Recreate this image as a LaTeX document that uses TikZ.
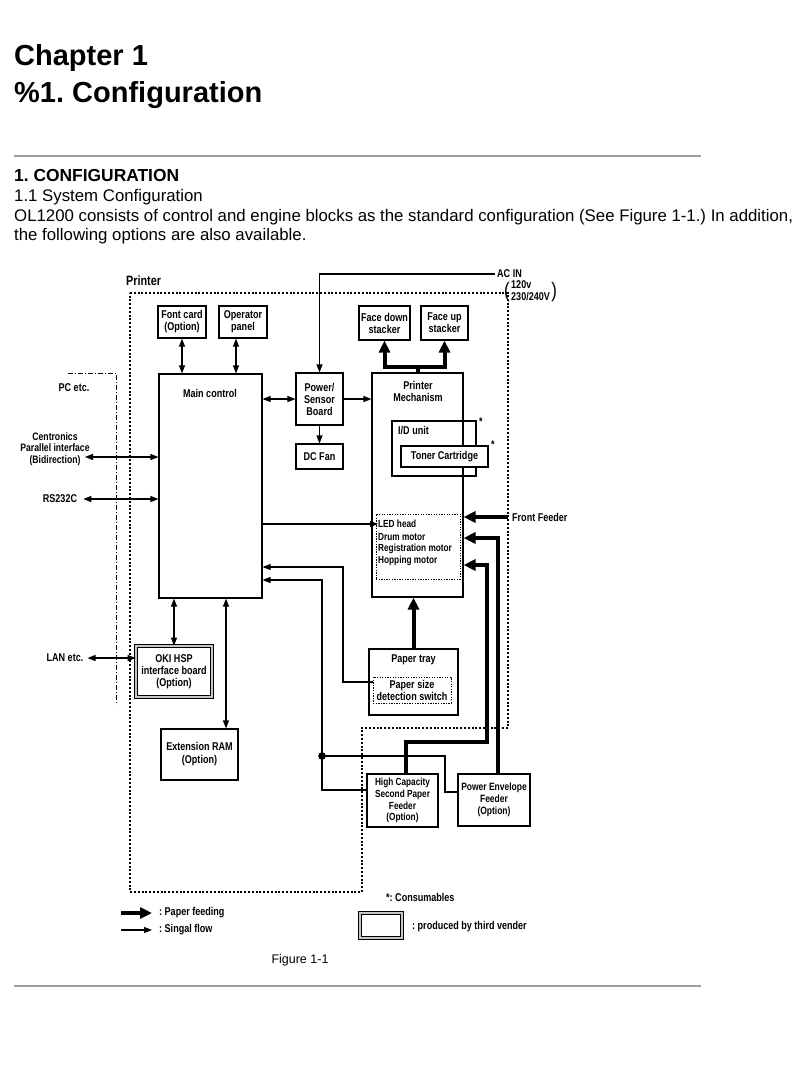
\documentclass[tikz,border=0pt]{standalone}
\usepackage{fontspec}
\setmainfont{Liberation Sans}
\newfontfamily\dg[FakeStretch=0.8]{Liberation Sans}
\usetikzlibrary{arrows.meta,calc}
\frenchspacing
\tikzset{
  sig/.style={line width=1.1pt},
  sarr/.style={sig,-{Triangle[length=8pt,width=6pt]}},
  sdarr/.style={sig,{Triangle[length=8pt,width=6pt]}-{Triangle[length=8pt,width=6pt]}},
  feed/.style={line width=4pt},
  feedarr/.style={feed,-{Triangle[length=12pt,width=11pt]}},
  dfont/.style={font=\dg\bfseries\fontsize{11.3}{12}\selectfont},
  box/.style={draw,line width=1.1pt,inner sep=1pt,align=center,dfont},
  dotbox/.style={draw,line width=1pt,dash pattern=on 1.3pt off 1.3pt,inner sep=1pt,align=center,dfont},
  third/.style={draw=black,line width=0.8pt,double=gray!45,double distance=2.2pt,inner sep=1pt,align=center,dfont},
  lbl/.style={inner sep=0pt,align=center,dfont},
  ledt/.style={inner sep=0pt,font=\dg\bfseries\fontsize{10.3}{11}\selectfont},
  bound/.style={line width=1.1pt,dash pattern=on 2pt off 1.8pt},
  pcline/.style={line width=1pt,dash pattern=on 5pt off 2pt on 1pt off 2pt},
  head/.style={anchor=base west,inner sep=0pt,font=\bfseries\fontsize{29}{30}\selectfont},
  body/.style={anchor=base west,inner sep=0pt,font=\fontsize{16.8}{20}\selectfont},
  rule/.style={draw=gray!75,line width=1.8pt},
  paren/.style={inner sep=0pt,font=\dg\fontsize{21}{21}\selectfont}
}
\begin{document}
\begin{tikzpicture}[x=1pt,y=-1pt]
\useasboundingbox (0,0) rectangle (808,1066);
\fill[white] (0,0) rectangle (808,1066);

% ---------- page text ----------
\node[head] (h1) at (14,65.5) {Chapter 1};
\node[head] (h2) at (14,102) {\%1. Configuration};
\draw[rule] (14,156) -- (701,156);
\node[body,font=\bfseries\fontsize{17.4}{20}\selectfont] (t1) at (14,181) {1. CONFIGURATION};
\node[body] (t2) at (14,201) {1.1 System Configuration};
\node[body] (t3) at (14,221) {OL1200 consists of control and engine blocks as the standard configuration (See Figure 1-1.) In addition,};
\node[body] (t4) at (14,240) {the following options are also available.};
\draw[rule] (14,986) -- (701,986);

% ---------- boundaries ----------
\node[lbl,anchor=west,font=\dg\bfseries\fontsize{13.5}{14}\selectfont] (printer) at (126,281) {Printer};
\draw[bound] (130,293) -- (508,293) -- (508,728) -- (362,728) -- (362,892) -- (130,892) -- cycle;
\draw[pcline] (68,373) -- (116,373) -- (116,705);
\node[lbl] (pc) at (74,388) {PC etc.};

% ---------- boxes ----------
\node[box,minimum width=48,minimum height=32] (font) at (182,322) {Font card\\(Option)};
\node[box,minimum width=48,minimum height=32] (oper) at (243,322) {Operator\\panel};
\node[box,minimum width=51,minimum height=34] (fdown) at (384.5,323) {Face down\\stacker};
\node[box,minimum width=47,minimum height=34] (fup) at (444.5,323) {Face up\\stacker};
\node[box,minimum width=103,minimum height=224] (main) at (210.5,486) {};
\node[lbl] (mainl) at (210,393) {Main control};
\node[box,minimum width=47,minimum height=52] (power) at (319.5,399) {Power/\\Sensor\\Board};
\node[box,minimum width=47,minimum height=25] (fan) at (319.5,456.5) {DC Fan};
\node[box,minimum width=91,minimum height=224] (mech) at (417.5,485) {};
\node[lbl] (mechl) at (418,391) {Printer\\Mechanism};
\node[box,minimum width=84,minimum height=55] (idu) at (434,448.5) {};
\node[lbl,anchor=west] (idul) at (398,431) {I/D unit};
\node[box,fill=white,minimum width=87,minimum height=21] (toner) at (444.5,456.5) {Toner Cartridge};
\node[lbl] (star1) at (481,422) {*};
\node[lbl] (star2) at (493,445) {*};
\node[dotbox,minimum width=84,minimum height=65] (ledbox) at (418,546.5) {};
\node[ledt,anchor=west] (led) at (378,524) {LED head};
\node[ledt,anchor=west] (drum) at (378,537) {Drum motor};
\node[ledt,anchor=west] (reg) at (378,549) {Registration motor};
\node[ledt,anchor=west] (hop) at (378,561) {Hopping motor};
\node[box,minimum width=89,minimum height=66] (tray) at (413.5,682) {};
\node[lbl] (trayl) at (413.5,660) {Paper tray};
\node[dotbox,minimum width=78,minimum height=26] (sw) at (412,690) {Paper size\\detection switch};
\node[third,minimum width=76,minimum height=51] (oki) at (174,671.5) {OKI HSP\\interface board\\(Option)};
\node[box,minimum width=77,minimum height=51,font=\dg\bfseries\fontsize{11.3}{13}\selectfont] (ram) at (199.5,754.5) {Extension RAM\\(Option)};
\node[box,minimum width=71,minimum height=53,font=\dg\bfseries\fontsize{10.3}{11.8}\selectfont] (hc) at (402.5,800.5) {High Capacity\\Second Paper\\Feeder\\(Option)};
\node[box,minimum width=72,minimum height=52,font=\dg\bfseries\fontsize{10.6}{12}\selectfont] (pe) at (494,800) {Power Envelope\\Feeder\\(Option)};

% ---------- outside labels ----------
\node[lbl,font=\dg\bfseries\fontsize{10.8}{11.3}\selectfont] (cent) at (55,449) {Centronics\\Parallel interface\\(Bidirection)};
\coordinate (cenA) at (85,457);
\node[lbl] (rs) at (60,499) {RS232C};
\node[lbl] (lan) at (65,658) {LAN etc.};
\node[lbl,anchor=west] (acin) at (497,274) {AC IN};
\node[lbl,anchor=west,align=left] (acv) at (511,291) {120v\\230/240V};
\node[paren,anchor=east] (pl) at ([xshift=-1pt,yshift=-1.5pt]acv.west) {(};
\node[paren,anchor=west] (pr) at ([xshift=1pt,yshift=-1.5pt]acv.east) {)};
\node[lbl,anchor=west] (ff) at (512,517) {Front Feeder};

% ---------- signal connectors ----------
\draw[sarr] ([xshift=-2pt]acin.west) -| (power.north);
\draw[sdarr] (font.south) -- (font.south |- main.north);
\draw[sdarr] ([xshift=-7pt]oper.south) -- ([xshift=-7pt]oper.south |- main.north);
\draw[sdarr] (power.west -| main.east) -- (power.west);
\draw[sarr] (power.east) -- (power.east -| mech.west);
\draw[sarr] (power.south) -- (fan.north);
\draw[sdarr] (cenA) -- (cenA -| main.west);
\draw[sdarr] ([xshift=6pt]rs.east) -- (rs.east -| main.west);
\draw[sarr] (led.west -| main.east) -- (led.west);
\coordinate (c1) at (343,567);
\draw[sarr] ([yshift=8pt]sw.west) -| (c1) -- (c1 -| main.east);
\coordinate (c2) at (322,580);
\coordinate (jn) at (322,756);
\coordinate (c3) at (445,756);
\draw[sarr] ([yshift=10.5pt]hc.west) -| (c2) -- (c2 -| main.east);
\draw[sig] ([yshift=8pt]pe.west) -| (c3) -- (jn);
\fill (jn) circle (3.8pt);
\draw[sdarr] (oki.north) -- (oki.north |- main.south);
\draw[sdarr] ([xshift=26.5pt]ram.north) -- ([xshift=26.5pt]ram.north |- main.south);
\draw[sdarr] ([xshift=4pt]lan.east) -- (lan.east -| oki.west);

% ---------- paper feeding ----------
\coordinate (stj) at (417.5,367);
\draw[feed] (mech.north) -- (stj);
\draw[feedarr] (stj) -| (fdown.south);
\draw[feedarr] (stj) -| (fup.south);
\draw[feedarr] (tray.north) -- (tray.north |- mech.south);
\draw[feedarr] ([xshift=-4pt]ff.west) -- (ff.west -| mech.east);
\coordinate (c4) at (487,742);
\coordinate (c5) at (487,565);
\draw[feedarr] ([xshift=3.5pt]hc.north) |- (c4) -- (c5) -- (c5 -| mech.east);
\coordinate (c6) at (498,538);
\draw[feedarr] ([xshift=4pt]pe.north) |- (c6 -| mech.east);

% ---------- legend ----------
\node[lbl,anchor=west] (lfeed) at (159,913) {: Paper feeding};
\node[lbl,anchor=west] (lsig) at (159,930) {: Singal flow};
\draw[feedarr] ([xshift=-38pt]lfeed.west) -- ([xshift=-7pt]lfeed.west);
\draw[sarr] ([xshift=-38pt]lsig.west) -- ([xshift=-7pt]lsig.west);
\node[lbl,anchor=west] (cons) at (386,897) {*: Consumables};
\node[third,minimum width=42,minimum height=25] (lbox) at (381,925.5) {};
\node[lbl,anchor=west] (lthird) at (412,927) {: produced by third vender};
\node[inner sep=0pt,font=\fontsize{12.5}{14}\selectfont] (fig) at (300,960) {Figure 1-1};
\end{tikzpicture}
\end{document}
